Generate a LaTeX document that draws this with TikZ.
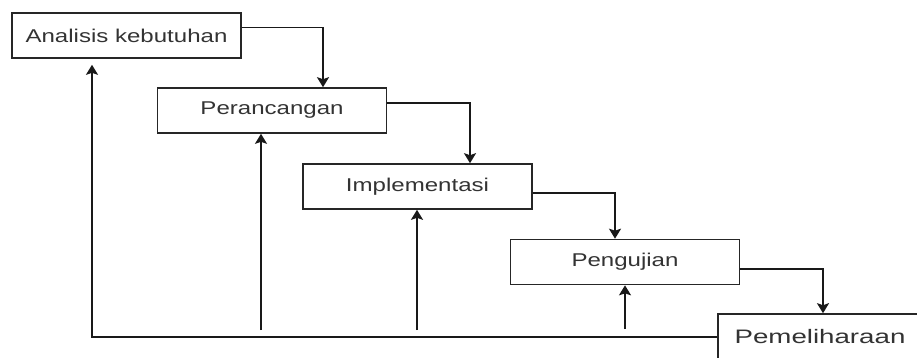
\documentclass[tikz,border=0pt]{standalone}
\usepackage{fontspec}
\setmainfont{Liberation Sans}
\usepackage{graphicx}
\usetikzlibrary{positioning, arrows.meta, calc}
\newcommand{\widetxt}[2]{\scalebox{#1}[1]{#2}}

\begin{document}
\begin{tikzpicture}[x=1pt,y=-1pt,
    phase/.style={draw=black!85, line width=1.6pt, fill=white,
        minimum width=229pt, minimum height=45pt, inner sep=0pt,
        text=black!80, font=\fontsize{18.5}{20}\selectfont},
    flow/.style={line width=1.8pt, draw=black!90,
        -{Stealth[width=12pt,length=10pt,inset=2pt]}}]
        % Canvas
        \clip (0,0) rectangle (917,357);
        \fill[white] (0,0) rectangle (917,357);

        % Phases of the cascade
        \node[phase] (analisis) at (126.5,35.5) {\widetxt{1.3}{Analisis kebutuhan}};
        \node[phase] (perancangan) at (272,110.5) {\widetxt{1.3}{Perancangan}};
        \node[phase] (implementasi) at (417.5,186.5) {\widetxt{1.3}{Implementasi}};
        \node[phase] (pengujian) at (625,262) {\widetxt{1.3}{Pengujian}};
        \node[phase, minimum width=204pt, font=\fontsize{19.5}{21}\selectfont]
            (pemeliharaan) at (820,336.5) {\widetxt{1.42}{Pemeliharaan}};

        % Downward steps
        \draw[flow] ([yshift=8pt]analisis.east) -| ([xshift=51pt]perancangan.north);
        \draw[flow] ([yshift=7.5pt]perancangan.east) -| ([xshift=52.5pt]implementasi.north);
        \draw[flow] ([yshift=-6.5pt]implementasi.east) -| ([xshift=-10pt]pengujian.north);
        \draw[flow] ([yshift=-7pt]pengujian.east) -| ([xshift=3pt]pemeliharaan.north);

        % Feedback loop back to the first phase
        \coordinate (loop) at (92,337);
        \draw[flow, shorten >=6pt] (pemeliharaan.west |- loop) -- (loop)
            -- ([xshift=-34.5pt]analisis.south);

        % Returns to the middle phases
        \coordinate (back1) at (261,330);
        \coordinate (back2) at (417,330);
        \coordinate (back3) at (625,329);
        \draw[flow] (back1) -- (back1 |- perancangan.south);
        \draw[flow] (back2) -- (back2 |- implementasi.south);
        \draw[flow] (back3) -- (back3 |- pengujian.south);
\end{tikzpicture}
\end{document}
